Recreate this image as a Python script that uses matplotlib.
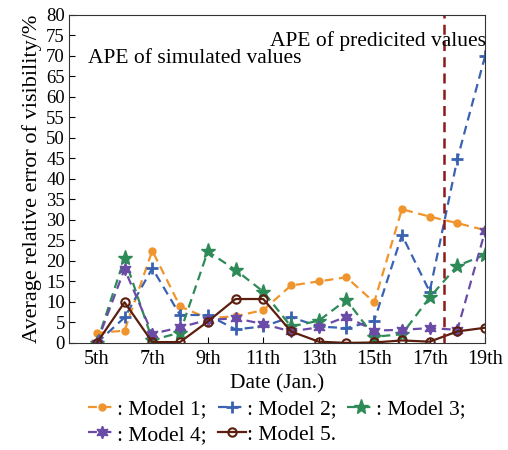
import matplotlib
matplotlib.use("Agg")
import matplotlib.pyplot as plt

plt.rcParams['font.family'] = ['Liberation Serif', 'DejaVu Serif']

days = list(range(5, 20))
xtick_days = [5, 7, 9, 11, 13, 15, 17, 19]
xtick_labels = ["5th", "7th", "9th", "11th", "13th", "15th", "17th", "19th"]

model1 = [2.4, 3.0, 22.5, 8.9, 6.0, 6.5, 8.0, 14.0, 15.0, 16.0, 9.9, 32.6, 30.8, 29.2, 27.5]
model2 = [0.0, 6.2, 18.2, 6.8, 6.8, 3.3, 4.0, 6.3, 4.0, 3.6, 5.4, 26.3, 12.5, 44.9, 70.0]
model3 = [0.0, 20.7, 0.7, 2.5, 22.3, 17.8, 12.5, 4.0, 5.4, 10.5, 1.5, 2.1, 11.1, 18.8, 21.5]
model4 = [0.0, 18.0, 2.2, 3.8, 5.6, 6.0, 4.6, 2.8, 3.8, 6.4, 3.0, 3.2, 3.6, 3.2, 27.3]
model5 = [0.0, 9.9, 0.2, 0.2, 5.2, 10.7, 10.7, 2.8, 0.3, 0.0, 0.1, 0.6, 0.3, 2.8, 3.7]
split_day = 17.5

fig = plt.figure(figsize=(5.08, 4.5), dpi=100)
ax = fig.add_axes([0.136, 0.238, 0.819, 0.729])

l1, = ax.plot(days, model1, '--', color='#F0952E', marker='o', ms=5, lw=1.6, dashes=(4, 2.5))
l2, = ax.plot(days, model2, '--', color='#3A62B0', marker='+', ms=8, mew=2, lw=1.6, dashes=(4, 2.5))
l3, = ax.plot(days, model3, '--', color='#2E8B57', marker='*', ms=11, lw=1.6, dashes=(4, 2.5))
l4, = ax.plot(days, model4, '--', color='#6A4CA6', marker=(6, 1, 0), ms=9, lw=1.6, dashes=(4, 2.5))
l5, = ax.plot(days, model5, '-', color='#5C1E0E', marker='o', ms=6, mfc='none', mew=1.5, lw=1.6)

ax.axvline(split_day, color='#8B1A1A', ls='--', lw=1.8, dashes=(4, 2.5))

ax.text(4.69, 68.2, "APE of simulated values", fontsize=15.5)
ax.text(11.25, 72.4, "APE of predicited values", fontsize=15.5)

ax.set_xlim(4, 19)
ax.set_ylim(0, 80)
ax.set_yticks(range(0, 81, 5))
ax.set_xticks(xtick_days)
ax.set_xticklabels(xtick_labels)
ax.tick_params(direction='in', length=4)
ax.tick_params(axis='y', labelsize=13.5, pad=3)
ax.tick_params(axis='x', labelsize=14.5, pad=5)
for s in ax.spines.values():
    s.set_color('#333333')

ax.set_xlabel("Date (Jan.)", fontsize=15.5, labelpad=4)
ax.set_ylabel("Average relative error of visibility/%", fontsize=16, labelpad=3)

handles = [l1, l4, l2, l5, l3]
labels = [": Model 1;", ": Model 4;", ": Model 2;", ": Model 5.", ": Model 3;"]
fig.legend(handles, labels, ncol=3, loc='lower center', bbox_to_anchor=(0.545, -0.022),
           frameon=False, fontsize=15.5, handlelength=1.3, handletextpad=0.05,
           columnspacing=0.5, labelspacing=0.25, borderpad=0.2)

fig.savefig("out.png", dpi=100)
